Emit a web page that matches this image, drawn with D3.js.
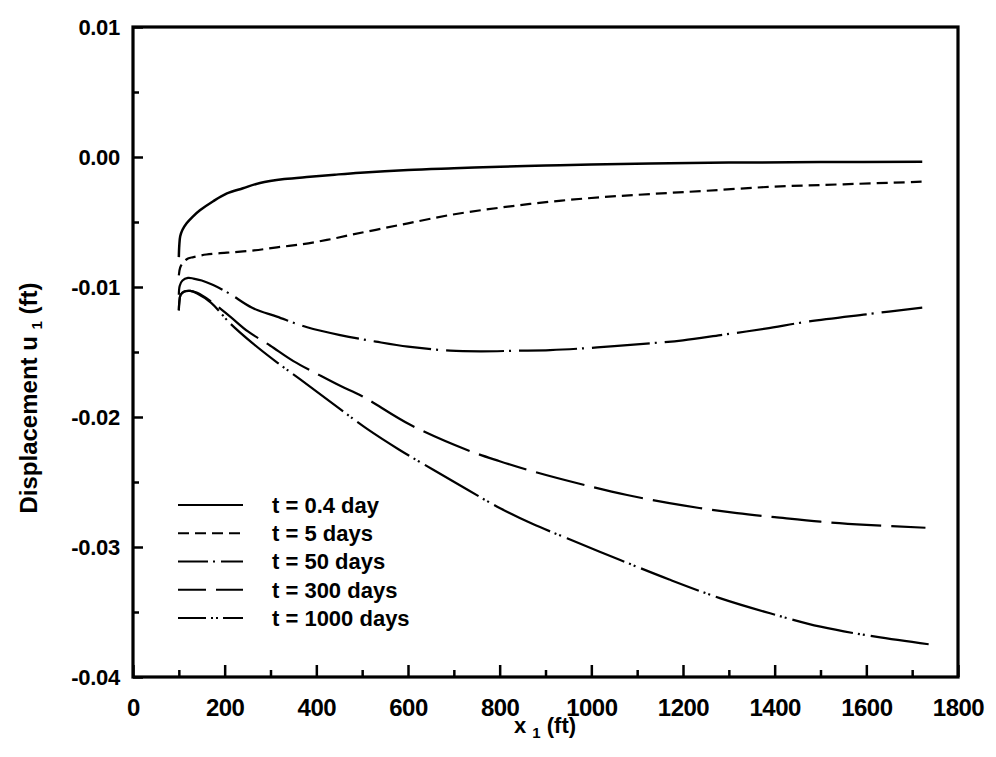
<!DOCTYPE html>
<html>
<head>
<meta charset="utf-8">
<script src="https://cdn.jsdelivr.net/npm/d3@7/dist/d3.min.js"></script>
<style>
  html, body { margin: 0; padding: 0; background: #fff; }
  svg { display: block; }
  text { font-family: "Liberation Sans", Arial, Helvetica, sans-serif; font-weight: bold; fill: #000; }
</style>
</head>
<body>
<svg id="chart" width="996" height="757"></svg>
<script>
// ---- data ----
const seriesNames = ["t = 0.4 day", "t = 5 days", "t = 50 days", "t = 300 days", "t = 1000 days"];

const t04 = [[100,-0.0077],[101,-0.0068],[103,-0.0061],[108,-0.0056],[117,-0.0051],[130,-0.0046],[146,-0.0041],[175,-0.0034],[205,-0.0028],[240,-0.0024],[277,-0.0020],[330,-0.0017],[386,-0.00152],[440,-0.00136],[496,-0.00121],[600,-0.00100],[700,-0.00087],[801,-0.00075],[900,-0.00065],[1000,-0.00058],[1129,-0.0005],[1300,-0.00043],[1500,-0.00039],[1722,-0.00036]];

const t5 = [[100,-0.0091],[103,-0.0085],[110,-0.0081],[120,-0.0078],[132,-0.0077],[160,-0.0075],[205,-0.00736],[260,-0.0072],[314,-0.00695],[370,-0.0067],[423,-0.00638],[474,-0.0060],[530,-0.0056],[600,-0.0051],[692,-0.00446],[800,-0.0039],[910,-0.00344],[1020,-0.0031],[1129,-0.00285],[1250,-0.0026],[1398,-0.00228],[1550,-0.0021],[1722,-0.0019]];

const t50 = [[100,-0.0106],[102,-0.0099],[108,-0.0095],[120,-0.0093],[132,-0.00935],[150,-0.0095],[175,-0.00985],[210,-0.0105],[260,-0.0116],[314,-0.01228],[380,-0.0131],[452,-0.0137],[530,-0.0142],[600,-0.01459],[692,-0.0149],[760,-0.01495],[838,-0.0149],[910,-0.01485],[983,-0.01472],[1050,-0.01455],[1129,-0.01433],[1200,-0.0141],[1282,-0.0137],[1380,-0.0132],[1471,-0.01267],[1600,-0.0121],[1722,-0.01159]];

const t300 = [[100,-0.0118],[101,-0.0112],[104,-0.0106],[112,-0.01035],[125,-0.0103],[140,-0.01045],[170,-0.0111],[212,-0.01228],[250,-0.0134],[299,-0.0145],[350,-0.0157],[408,-0.0168],[452,-0.0176],[500,-0.0184],[605,-0.0206],[729,-0.02254],[800,-0.0234],[874,-0.0242],[970,-0.0251],[1078,-0.0260],[1200,-0.0268],[1318,-0.0274],[1400,-0.0277],[1500,-0.02805],[1600,-0.0283],[1729,-0.02852]];

const t1000 = [[100,-0.0118],[101,-0.0112],[104,-0.0106],[112,-0.01035],[125,-0.0103],[140,-0.0105],[170,-0.0112],[212,-0.0128],[260,-0.0143],[314,-0.0158],[365,-0.0171],[452,-0.0194],[510,-0.0209],[580,-0.0225],[656,-0.02408],[730,-0.0256],[801,-0.02702],[870,-0.0282],[947,-0.02933],[1063,-0.0310],[1170,-0.0325],[1282,-0.03395],[1390,-0.0351],[1500,-0.03613],[1620,-0.0369],[1736,-0.03748]];

const xTicks = [0, 200, 400, 600, 800, 1000, 1200, 1400, 1600, 1800];
const yTicks = [0.01, 0.00, -0.01, -0.02, -0.03, -0.04];
const yTickLabels = ["0.01", "0.00", "-0.01", "-0.02", "-0.03", "-0.04"];

// ---- layout ----
const svg = d3.select("#chart");
const L = 133, R = 958, T = 27, B = 677;
const x = d3.scaleLinear().domain([0, 1800]).range([L, R]);
const y = d3.scaleLinear().domain([-0.04, 0.01]).range([B, T]);

const styles = [
  { data: t04,   dash: null,                legendDash: null },
  { data: t5,    dash: "11,6",              legendDash: "11,6" },
  { data: t50,   dash: "58,5,2,8",          legendDash: "30,5,2,6" },
  { data: t300,  dash: "50,10",             legendDash: "28,10" },
  { data: t1000, dash: "62,5,2,3,2,6",      legendDash: "28,5,2,3,2,5" }
];

const line = d3.line().x(d => x(d[0])).y(d => y(d[1])).curve(d3.curveCatmullRom.alpha(0.5));

styles.forEach((s, i) => {
  svg.append("path").datum(s.data)
    .attr("d", line)
    .attr("fill", "none")
    .attr("stroke", "#000")
    .attr("stroke-width", i === 0 ? 2.5 : 2.2)
    .attr("stroke-dasharray", s.dash);
});

// ---- axes ----
const xMinor = d3.range(100, 1800, 200);
const yMinor = d3.range(-0.035, 0.01, 0.01);

const xAxis = d3.axisBottom(x).tickValues(xTicks).tickSize(-12).tickPadding(22).tickFormat(d3.format("d"));
const gx = svg.append("g").attr("transform", `translate(0,${B})`).call(xAxis);
gx.selectAll(".tick text").attr("font-size", 24).attr("font-family", "Liberation Sans, Arial, sans-serif").attr("font-weight", "bold").attr("letter-spacing", "-0.5");
gx.selectAll(".tick line").attr("stroke-width", 2.5);
gx.select(".domain").remove();
const gxm = svg.append("g").attr("transform", `translate(0,${B})`).call(d3.axisBottom(x).tickValues(xMinor).tickSize(-7).tickFormat(""));
gxm.selectAll(".tick line").attr("stroke-width", 2.5);
gxm.select(".domain").remove();

const yAxis = d3.axisLeft(y).tickValues(yTicks).tickSize(-10).tickPadding(13).tickFormat((d, i) => yTickLabels[i]);
const gy = svg.append("g").attr("transform", `translate(${L},0)`).call(yAxis);
gy.selectAll(".tick text").attr("font-size", 22).attr("font-family", "Liberation Sans, Arial, sans-serif").attr("font-weight", "bold").attr("letter-spacing", "-0.3");
gy.selectAll(".tick line").attr("stroke-width", 2.5);
gy.select(".domain").remove();
const gym = svg.append("g").attr("transform", `translate(${L},0)`).call(d3.axisLeft(y).tickValues(yMinor).tickSize(-6).tickFormat(""));
gym.selectAll(".tick line").attr("stroke-width", 2.5);
gym.select(".domain").remove();

// frame
svg.append("rect").attr("x", L).attr("y", T).attr("width", R - L).attr("height", B - T)
  .attr("fill", "none").attr("stroke", "#000").attr("stroke-width", 3.2);

// ---- axis titles ----
const xt = svg.append("text").attr("x", 545).attr("y", 733).attr("text-anchor", "middle").attr("font-size", 22);
xt.append("tspan").text("x ");
xt.append("tspan").attr("font-size", 15).attr("dy", 5).text("1");
xt.append("tspan").attr("dy", -5).text(" (ft)");

const yt = svg.append("text").attr("transform", `translate(37,${398}) rotate(-90)`).attr("text-anchor", "middle").attr("font-size", 24);
yt.append("tspan").text("Displacement u ");
yt.append("tspan").attr("font-size", 15).attr("dy", 5).text("1");
yt.append("tspan").attr("dy", -5).text(" (ft)");

// ---- legend ----
const legendY = d3.scalePoint().domain(seriesNames).range([505, 618]);
const lg = svg.append("g");
seriesNames.forEach((name, i) => {
  const yy = legendY(name);
  lg.append("line").attr("x1", 178).attr("x2", 243).attr("y1", yy).attr("y2", yy)
    .attr("stroke", "#000").attr("stroke-width", 2.2).attr("stroke-dasharray", styles[i].legendDash);
  lg.append("text").attr("x", 272).attr("y", yy).attr("dy", "0.36em").attr("font-size", 22).text(name);
});
</script>
</body>
</html>
